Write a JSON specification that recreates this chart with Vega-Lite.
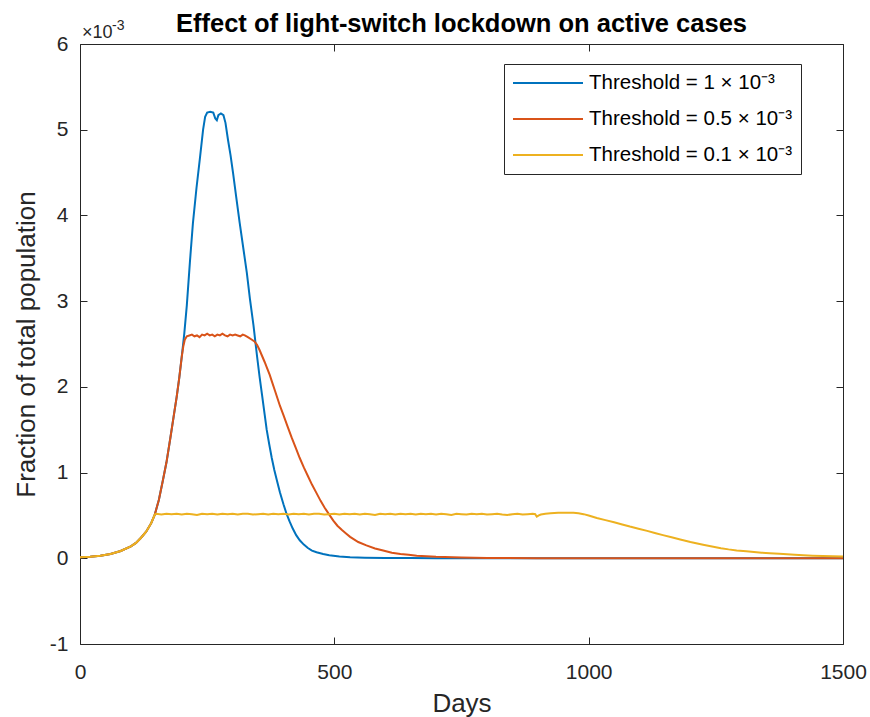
{
  "$schema": "https://vega.github.io/schema/vega-lite/v6.json",
  "width": 763,
  "height": 600,
  "autosize": {"type": "none"},
  "padding": {"left": 80, "top": 44, "right": 27, "bottom": 73},
  "background": "white",
  "title": {"text": "Effect of light-switch lockdown on active cases", "font": "Liberation Sans", "fontSize": 25.5, "fontWeight": "bold", "color": "#000000", "anchor": "middle", "offset": 12, "dy": 30},
  "datasets": {
    "blue": [
      {"d": 0, "v": 0.012e-3}, {"d": 20, "v": 0.018e-3}, {"d": 40, "v": 0.03e-3}, {"d": 60, "v": 0.05e-3}, {"d": 80, "v": 0.085e-3}, {"d": 100, "v": 0.14e-3}, {"d": 110, "v": 0.18e-3}, {"d": 120, "v": 0.24e-3}, {"d": 130, "v": 0.31e-3}, {"d": 140, "v": 0.41e-3}, {"d": 147, "v": 0.51e-3},
      {"d": 155, "v": 0.68e-3}, {"d": 163, "v": 0.91e-3}, {"d": 170, "v": 1.12e-3}, {"d": 177, "v": 1.38e-3}, {"d": 184, "v": 1.65e-3}, {"d": 190, "v": 1.88e-3}, {"d": 195, "v": 2.1e-3}, {"d": 200, "v": 2.35e-3}, {"d": 205, "v": 2.62e-3}, {"d": 210, "v": 2.95e-3}, {"d": 216, "v": 3.45e-3}, {"d": 222, "v": 3.91e-3}, {"d": 229, "v": 4.32e-3}, {"d": 236, "v": 4.68e-3}, {"d": 242, "v": 5.0e-3}, {"d": 246, "v": 5.15e-3}, {"d": 250, "v": 5.2e-3}, {"d": 256, "v": 5.21e-3}, {"d": 262, "v": 5.2e-3}, {"d": 266, "v": 5.13e-3}, {"d": 269, "v": 5.11e-3}, {"d": 272, "v": 5.17e-3}, {"d": 277, "v": 5.19e-3}, {"d": 282, "v": 5.17e-3}, {"d": 286, "v": 5.08e-3}, {"d": 291, "v": 4.88e-3}, {"d": 296, "v": 4.7e-3}, {"d": 301, "v": 4.49e-3}, {"d": 307, "v": 4.22e-3}, {"d": 314, "v": 3.91e-3}, {"d": 321, "v": 3.62e-3}, {"d": 328, "v": 3.33e-3}, {"d": 334, "v": 3.03e-3}, {"d": 341, "v": 2.72e-3}, {"d": 348, "v": 2.36e-3}, {"d": 353, "v": 2.12e-3}, {"d": 358, "v": 1.9e-3}, {"d": 363, "v": 1.68e-3}, {"d": 367, "v": 1.5e-3}, {"d": 372, "v": 1.33e-3}, {"d": 377, "v": 1.17e-3}, {"d": 382, "v": 1.03e-3}, {"d": 387, "v": 0.91e-3}, {"d": 393, "v": 0.77e-3}, {"d": 400, "v": 0.63e-3}, {"d": 406, "v": 0.52e-3}, {"d": 412, "v": 0.43e-3}, {"d": 418, "v": 0.35e-3}, {"d": 425, "v": 0.27e-3}, {"d": 432, "v": 0.21e-3}, {"d": 440, "v": 0.16e-3}, {"d": 448, "v": 0.12e-3}, {"d": 456, "v": 0.09e-3}, {"d": 465, "v": 0.07e-3}, {"d": 478, "v": 0.05e-3}, {"d": 490, "v": 0.035e-3}, {"d": 510, "v": 0.02e-3}, {"d": 531, "v": 0.012e-3}, {"d": 560, "v": 0.007e-3}, {"d": 600, "v": 0.004e-3}, {"d": 650, "v": 0.002e-3}, {"d": 700, "v": 0.001e-3}, {"d": 750, "v": 0.0005e-3}, {"d": 1500, "v": 0}
    ],
    "red": [
      {"d": 0, "v": 0.012e-3}, {"d": 20, "v": 0.018e-3}, {"d": 40, "v": 0.03e-3}, {"d": 60, "v": 0.05e-3}, {"d": 80, "v": 0.085e-3}, {"d": 100, "v": 0.14e-3}, {"d": 110, "v": 0.18e-3}, {"d": 120, "v": 0.24e-3}, {"d": 130, "v": 0.31e-3}, {"d": 140, "v": 0.41e-3}, {"d": 147, "v": 0.51e-3},
      {"d": 155, "v": 0.68e-3}, {"d": 163, "v": 0.91e-3}, {"d": 170, "v": 1.12e-3}, {"d": 177, "v": 1.38e-3}, {"d": 184, "v": 1.65e-3}, {"d": 190, "v": 1.88e-3}, {"d": 195, "v": 2.1e-3}, {"d": 200, "v": 2.35e-3}, {"d": 203, "v": 2.47e-3}, {"d": 206, "v": 2.55e-3}, {"d": 210, "v": 2.59e-3},
      {"d": 215, "v": 2.6e-3}, {"d": 220, "v": 2.61e-3}, {"d": 225, "v": 2.59e-3}, {"d": 230, "v": 2.6e-3}, {"d": 235, "v": 2.58e-3}, {"d": 240, "v": 2.61e-3}, {"d": 245, "v": 2.6e-3}, {"d": 250, "v": 2.62e-3}, {"d": 255, "v": 2.6e-3}, {"d": 260, "v": 2.61e-3}, {"d": 265, "v": 2.59e-3}, {"d": 270, "v": 2.61e-3}, {"d": 275, "v": 2.6e-3}, {"d": 280, "v": 2.62e-3}, {"d": 285, "v": 2.6e-3}, {"d": 290, "v": 2.59e-3}, {"d": 295, "v": 2.61e-3}, {"d": 300, "v": 2.6e-3}, {"d": 305, "v": 2.61e-3}, {"d": 310, "v": 2.6e-3}, {"d": 315, "v": 2.59e-3}, {"d": 320, "v": 2.61e-3}, {"d": 324, "v": 2.6e-3},
      {"d": 330, "v": 2.58e-3}, {"d": 338, "v": 2.55e-3}, {"d": 343, "v": 2.53e-3}, {"d": 348, "v": 2.49e-3}, {"d": 353, "v": 2.43e-3}, {"d": 358, "v": 2.36e-3}, {"d": 363, "v": 2.29e-3}, {"d": 367, "v": 2.23e-3}, {"d": 373, "v": 2.14e-3}, {"d": 378, "v": 2.05e-3}, {"d": 383, "v": 1.96e-3}, {"d": 388, "v": 1.87e-3}, {"d": 393, "v": 1.78e-3}, {"d": 400, "v": 1.67e-3}, {"d": 408, "v": 1.54e-3}, {"d": 416, "v": 1.41e-3}, {"d": 424, "v": 1.29e-3}, {"d": 432, "v": 1.17e-3}, {"d": 440, "v": 1.06e-3}, {"d": 448, "v": 0.96e-3}, {"d": 456, "v": 0.86e-3}, {"d": 465, "v": 0.76e-3}, {"d": 473, "v": 0.67e-3}, {"d": 481, "v": 0.59e-3}, {"d": 490, "v": 0.51e-3}, {"d": 498, "v": 0.44e-3}, {"d": 506, "v": 0.38e-3}, {"d": 515, "v": 0.33e-3}, {"d": 523, "v": 0.29e-3}, {"d": 531, "v": 0.25e-3}, {"d": 547, "v": 0.19e-3}, {"d": 563, "v": 0.15e-3}, {"d": 580, "v": 0.115e-3}, {"d": 596, "v": 0.09e-3}, {"d": 613, "v": 0.065e-3}, {"d": 630, "v": 0.05e-3}, {"d": 646, "v": 0.04e-3}, {"d": 662, "v": 0.03e-3}, {"d": 700, "v": 0.017e-3}, {"d": 750, "v": 0.008e-3}, {"d": 800, "v": 0.004e-3}, {"d": 900, "v": 0.001e-3}, {"d": 1000, "v": 0.0003e-3}, {"d": 1100, "v": 0.0001e-3}, {"d": 1500, "v": 0}
    ],
    "yellow": [
      {"d": 0, "v": 0.012e-3}, {"d": 20, "v": 0.018e-3}, {"d": 40, "v": 0.03e-3}, {"d": 60, "v": 0.05e-3}, {"d": 80, "v": 0.085e-3}, {"d": 100, "v": 0.14e-3}, {"d": 110, "v": 0.18e-3}, {"d": 120, "v": 0.24e-3}, {"d": 130, "v": 0.31e-3}, {"d": 140, "v": 0.41e-3}, {"d": 147, "v": 0.51e-3},
      {"d": 150, "v": 0.52e-3}, {"d": 160, "v": 0.51e-3}, {"d": 170, "v": 0.52e-3}, {"d": 180, "v": 0.515e-3}, {"d": 190, "v": 0.52e-3}, {"d": 200, "v": 0.51e-3}, {"d": 210, "v": 0.52e-3}, {"d": 220, "v": 0.515e-3}, {"d": 230, "v": 0.505e-3}, {"d": 240, "v": 0.52e-3}, {"d": 250, "v": 0.515e-3}, {"d": 260, "v": 0.52e-3}, {"d": 270, "v": 0.51e-3}, {"d": 280, "v": 0.52e-3}, {"d": 290, "v": 0.515e-3}, {"d": 300, "v": 0.52e-3}, {"d": 310, "v": 0.51e-3}, {"d": 320, "v": 0.52e-3}, {"d": 330, "v": 0.52e-3}, {"d": 340, "v": 0.51e-3}, {"d": 350, "v": 0.515e-3}, {"d": 360, "v": 0.52e-3}, {"d": 370, "v": 0.51e-3}, {"d": 380, "v": 0.52e-3}, {"d": 390, "v": 0.515e-3}, {"d": 400, "v": 0.52e-3}, {"d": 410, "v": 0.51e-3}, {"d": 420, "v": 0.52e-3}, {"d": 430, "v": 0.515e-3}, {"d": 440, "v": 0.52e-3}, {"d": 450, "v": 0.51e-3}, {"d": 460, "v": 0.52e-3}, {"d": 470, "v": 0.52e-3}, {"d": 480, "v": 0.51e-3}, {"d": 490, "v": 0.515e-3}, {"d": 500, "v": 0.52e-3}, {"d": 510, "v": 0.51e-3}, {"d": 520, "v": 0.52e-3}, {"d": 530, "v": 0.515e-3}, {"d": 540, "v": 0.52e-3}, {"d": 550, "v": 0.51e-3}, {"d": 560, "v": 0.52e-3}, {"d": 570, "v": 0.515e-3}, {"d": 580, "v": 0.505e-3}, {"d": 590, "v": 0.52e-3}, {"d": 600, "v": 0.515e-3}, {"d": 610, "v": 0.52e-3}, {"d": 620, "v": 0.51e-3}, {"d": 630, "v": 0.52e-3}, {"d": 640, "v": 0.515e-3}, {"d": 650, "v": 0.52e-3}, {"d": 660, "v": 0.51e-3}, {"d": 670, "v": 0.52e-3}, {"d": 680, "v": 0.515e-3}, {"d": 690, "v": 0.52e-3}, {"d": 700, "v": 0.51e-3}, {"d": 710, "v": 0.52e-3}, {"d": 720, "v": 0.515e-3}, {"d": 730, "v": 0.505e-3}, {"d": 740, "v": 0.52e-3}, {"d": 750, "v": 0.515e-3}, {"d": 760, "v": 0.51e-3}, {"d": 770, "v": 0.52e-3}, {"d": 780, "v": 0.515e-3}, {"d": 790, "v": 0.52e-3}, {"d": 800, "v": 0.51e-3}, {"d": 810, "v": 0.515e-3}, {"d": 820, "v": 0.52e-3}, {"d": 830, "v": 0.51e-3}, {"d": 840, "v": 0.505e-3}, {"d": 850, "v": 0.515e-3}, {"d": 860, "v": 0.52e-3}, {"d": 870, "v": 0.51e-3}, {"d": 880, "v": 0.515e-3}, {"d": 890, "v": 0.52e-3}, {"d": 895, "v": 0.515e-3}, {"d": 898, "v": 0.485e-3}, {"d": 902, "v": 0.5e-3}, {"d": 906, "v": 0.51e-3}, {"d": 915, "v": 0.52e-3}, {"d": 925, "v": 0.525e-3}, {"d": 940, "v": 0.53e-3}, {"d": 955, "v": 0.53e-3}, {"d": 970, "v": 0.53e-3}, {"d": 980, "v": 0.525e-3}, {"d": 990, "v": 0.515e-3}, {"d": 1000, "v": 0.5e-3}, {"d": 1016, "v": 0.47e-3}, {"d": 1033, "v": 0.445e-3}, {"d": 1050, "v": 0.42e-3}, {"d": 1066, "v": 0.395e-3}, {"d": 1081, "v": 0.37e-3}, {"d": 1098, "v": 0.345e-3}, {"d": 1115, "v": 0.32e-3}, {"d": 1130, "v": 0.295e-3}, {"d": 1146, "v": 0.27e-3}, {"d": 1163, "v": 0.245e-3}, {"d": 1180, "v": 0.22e-3}, {"d": 1200, "v": 0.19e-3}, {"d": 1225, "v": 0.158e-3}, {"d": 1245, "v": 0.135e-3}, {"d": 1260, "v": 0.118e-3}, {"d": 1275, "v": 0.104e-3}, {"d": 1291, "v": 0.092e-3}, {"d": 1310, "v": 0.081e-3}, {"d": 1325, "v": 0.073e-3}, {"d": 1340, "v": 0.066e-3}, {"d": 1356, "v": 0.06e-3}, {"d": 1375, "v": 0.052e-3}, {"d": 1390, "v": 0.046e-3}, {"d": 1405, "v": 0.04e-3}, {"d": 1422, "v": 0.035e-3}, {"d": 1440, "v": 0.031e-3}, {"d": 1460, "v": 0.027e-3}, {"d": 1480, "v": 0.023e-3}, {"d": 1500, "v": 0.02e-3}
    ],
    "exp": [{"t": "×10", "s": "-3"}]
  },
  "layer": [
    {
      "data": {"name": "blue"},
      "mark": {"type": "line", "strokeWidth": 2},
      "encoding": {
        "x": {"field": "d", "type": "quantitative", "scale": {"domain": [0, 1500], "nice": false, "zero": false},
              "axis": {"orient": "bottom", "values": [0, 500, 1000, 1500], "format": "d", "title": "Days", "tickSize": -7, "labelPadding": 24, "titlePadding": 8, "domain": false, "labelFlush": false, "labelOverlap": false}},
        "y": {"field": "v", "type": "quantitative", "scale": {"domain": [-0.001, 0.006], "nice": false, "zero": false},
              "axis": {"orient": "left", "values": [-0.001, 0, 0.001, 0.002, 0.003, 0.004, 0.005, 0.006], "labelExpr": "toString(round(datum.value*1000))", "title": "Fraction of total population", "tickSize": -7, "labelPadding": 19, "titlePadding": 10, "domain": false, "labelFlush": false, "labelOverlap": false}},
        "color": {"datum": "Threshold = 1 × 10⁻³", "type": "nominal",
                  "scale": {"domain": ["Threshold = 1 × 10⁻³", "Threshold = 0.5 × 10⁻³", "Threshold = 0.1 × 10⁻³"], "range": ["#0072BD", "#D95319", "#EDB120"]},
                  "legend": {"orient": "none", "legendX": 424, "legendY": 20, "title": null, "strokeColor": "#262626", "fillColor": "white", "padding": 8, "symbolType": "M-1,0H6", "symbolSize": 400, "symbolStrokeWidth": 2, "labelFont": "Liberation Sans", "labelFontSize": 20.5, "labelColor": "#000000", "labelOffset": 55, "rowPadding": 14, "cornerRadius": 0}}
      }
    },
    {
      "data": {"name": "red"},
      "mark": {"type": "line", "strokeWidth": 2},
      "encoding": {
        "x": {"field": "d", "type": "quantitative", "axis": null},
        "y": {"field": "v", "type": "quantitative", "axis": null},
        "color": {"datum": "Threshold = 0.5 × 10⁻³", "type": "nominal"}
      }
    },
    {
      "data": {"name": "yellow"},
      "mark": {"type": "line", "strokeWidth": 2},
      "encoding": {
        "x": {"field": "d", "type": "quantitative", "axis": null},
        "y": {"field": "v", "type": "quantitative", "axis": null},
        "color": {"datum": "Threshold = 0.1 × 10⁻³", "type": "nominal"}
      }
    },
    {
      "data": {"name": "blue"},
      "mark": {"type": "line", "strokeOpacity": 0},
      "encoding": {
        "x": {"field": "d", "type": "quantitative", "axis": {"orient": "top", "values": [0, 500, 1000, 1500], "labels": false, "title": null, "tickSize": -7, "domain": false}},
        "y": {"field": "v", "type": "quantitative", "axis": {"orient": "right", "values": [-0.001, 0, 0.001, 0.002, 0.003, 0.004, 0.005, 0.006], "labels": false, "title": null, "tickSize": -7, "domain": false}}
      }
    },
    {
      "data": {"name": "exp"},
      "mark": {"type": "text", "align": "left", "baseline": "alphabetic", "dx": 2, "dy": -6, "font": "Liberation Sans", "fontSize": 18, "color": "#262626"},
      "encoding": {
        "x": {"datum": 0, "type": "quantitative", "axis": null},
        "y": {"datum": 0.006, "type": "quantitative", "axis": null},
        "text": {"field": "t"}
      }
    },
    {
      "data": {"name": "exp"},
      "mark": {"type": "text", "align": "left", "baseline": "alphabetic", "dx": 32, "dy": -14, "font": "Liberation Sans", "fontSize": 14, "color": "#262626"},
      "encoding": {
        "x": {"datum": 0, "type": "quantitative", "axis": null},
        "y": {"datum": 0.006, "type": "quantitative", "axis": null},
        "text": {"field": "s"}
      }
    }
  ],
  "resolve": {"axis": {"x": "independent", "y": "independent"}},
  "config": {
    "view": {"stroke": "#262626", "strokeWidth": 1},
    "axis": {"labelFont": "Liberation Sans", "titleFont": "Liberation Sans", "labelFontSize": 21, "titleFontSize": 26, "titleFontWeight": "normal", "labelColor": "#262626", "titleColor": "#262626", "tickColor": "#262626", "domainColor": "#262626", "grid": false},
    "legend": {"labelLimit": 400}
  }
}
